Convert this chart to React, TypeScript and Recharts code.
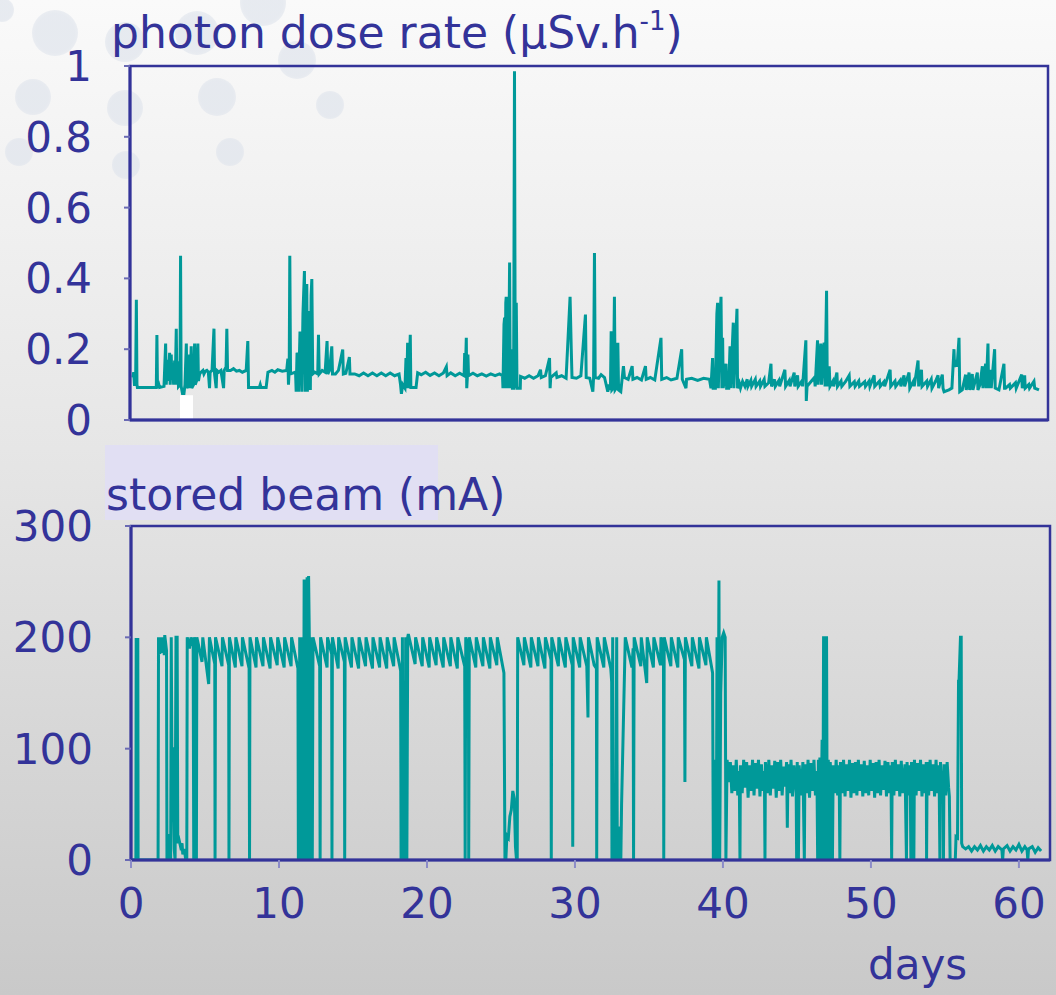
import React from 'react';
import { LineChart, Line, XAxis, YAxis, ReferenceArea } from 'recharts';

const FONT = '"Comic Sans MS", "DejaVu Sans", sans-serif';
const INK = '#333399';
const TEAL = '#009999';

const dayTicks = [0, 10, 20, 30, 40, 50, 60];
const doseTicks = [0, 0.2, 0.4, 0.6, 0.8, 1];
const beamTicks = [0, 100, 200, 300];

// photon dose rate (µSv/h) vs days
const dosePoints: [number, number][] = [
  [0.2,0.12],[0.25,0.135],[0.3,0.1],[0.38,0.1],[0.43,0.34],[0.47,0.1],[0.5,0.092],[1.78,0.092],[1.82,0.24],[1.86,0.092],
  [1.95,0.1],[2.0,0.092],[2.3,0.095],[2.41,0.216],[2.45,0.1],[2.55,0.17],[2.6,0.11],[2.68,0.19],[2.72,0.1],[2.79,0.185],
  [2.83,0.12],[2.9,0.16],[2.95,0.1],[3.02,0.168],[3.06,0.1],[3.13,0.258],[3.17,0.1],[3.24,0.166],[3.28,0.095],[3.38,0.1],
  [3.42,0.464],[3.46,0.095],[3.55,0.075],[3.65,0.075],[3.72,0.1],[3.81,0.216],[3.85,0.09],[3.95,0.1],[4.03,0.185],[4.07,0.09],
  [4.14,0.208],[4.18,0.09],[4.3,0.1],[4.37,0.216],[4.41,0.1],[4.5,0.11],[4.59,0.216],[4.63,0.11],[4.71,0.13],[4.8,0.135],
  [4.93,0.14],[5.0,0.13],[5.1,0.138],[5.2,0.14],[5.3,0.135],[5.38,0.09],[5.42,0.135],[5.55,0.14],[5.68,0.258],[5.72,0.13],
  [5.83,0.09],[5.87,0.14],[6.0,0.135],[6.15,0.14],[6.33,0.09],[6.37,0.14],[6.5,0.15],[6.55,0.258],[6.6,0.14],[6.8,0.14],
  [7.0,0.145],[7.2,0.138],[7.4,0.14],[7.6,0.135],[7.86,0.14],[7.97,0.223],[8.02,0.092],[8.5,0.092],[8.75,0.092],[8.81,0.1],
  [8.86,0.092],[9.21,0.092],[9.33,0.135],[9.6,0.14],[9.8,0.135],[10.0,0.142],[10.3,0.138],[10.6,0.14],[10.68,0.173],[10.72,0.1],
  [10.77,0.14],[10.81,0.464],[10.86,0.13],[11.2,0.135],[11.24,0.08],[11.3,0.19],[11.35,0.185],[11.4,0.08],[11.5,0.25],[11.58,0.218],
  [11.62,0.08],[11.7,0.3],[11.8,0.421],[11.85,0.08],[11.9,0.35],[11.96,0.384],[12.0,0.08],[12.05,0.3],[12.1,0.09],[12.14,0.308],
  [12.2,0.085],[12.25,0.35],[12.3,0.398],[12.36,0.13],[12.5,0.135],[12.7,0.13],[12.75,0.241],[12.8,0.13],[13.0,0.14],[13.2,0.135],
  [13.33,0.223],[13.38,0.13],[13.5,0.14],[13.65,0.208],[13.7,0.13],[13.9,0.13],[14.1,0.14],[14.39,0.199],[14.43,0.13],[14.6,0.132],
  [14.84,0.178],[14.88,0.13],[15.2,0.13],[15.5,0.125],[15.8,0.133],[16.1,0.125],[16.4,0.133],[16.7,0.125],[17.0,0.133],[17.3,0.125],
  [17.6,0.133],[17.9,0.125],[18.2,0.13],[18.3,0.1],[18.36,0.074],[18.45,0.1],[18.6,0.09],[18.67,0.175],[18.72,0.09],[18.78,0.218],
  [18.85,0.09],[18.96,0.241],[19.0,0.092],[19.35,0.092],[19.46,0.133],[19.7,0.128],[20.0,0.135],[20.3,0.126],[20.6,0.133],[20.9,0.125],
  [21.2,0.133],[21.4,0.15],[21.45,0.125],[21.7,0.133],[22.0,0.125],[22.3,0.132],[22.6,0.125],[22.64,0.189],[22.7,0.15],[22.75,0.232],
  [22.78,0.09],[22.82,0.12],[22.86,0.185],[22.9,0.125],[23.2,0.132],[23.5,0.125],[23.8,0.13],[24.1,0.124],[24.4,0.13],[24.7,0.125],
  [25.0,0.13],[25.2,0.125],[25.23,0.09],[25.3,0.27],[25.34,0.289],[25.38,0.09],[25.42,0.33],[25.45,0.348],[25.5,0.09],[25.56,0.348],
  [25.6,0.09],[25.68,0.445],[25.72,0.09],[25.8,0.2],[25.83,0.175],[25.87,0.09],[25.95,0.09],[26.01,0.985],[26.06,0.09],[26.13,0.331],
  [26.18,0.09],[26.4,0.09],[26.42,0.123],[26.7,0.118],[27.0,0.125],[27.3,0.118],[27.6,0.125],[27.77,0.142],[27.82,0.12],[28.1,0.125],
  [28.38,0.175],[28.42,0.09],[28.46,0.12],[28.83,0.133],[28.88,0.12],[29.2,0.125],[29.5,0.118],[29.77,0.348],[29.85,0.2],[29.9,0.12],
  [30.2,0.118],[30.5,0.125],[30.81,0.298],[30.86,0.12],[31.1,0.118],[31.31,0.08],[31.36,0.12],[31.42,0.472],[31.47,0.12],[31.7,0.118],
  [31.87,0.128],[32.1,0.12],[32.32,0.08],[32.4,0.1],[32.5,0.085],[32.55,0.251],[32.6,0.085],[32.7,0.09],[32.77,0.348],[32.82,0.085],
  [32.9,0.09],[33.0,0.218],[33.05,0.085],[33.2,0.08],[33.38,0.152],[33.45,0.12],[33.7,0.115],[33.97,0.152],[34.02,0.115],[34.3,0.12],
  [34.6,0.113],[34.87,0.152],[34.92,0.115],[35.2,0.12],[35.5,0.113],[35.92,0.232],[35.97,0.115],[36.3,0.12],[36.6,0.113],[37.0,0.118],
  [37.32,0.2],[37.36,0.115],[37.61,0.09],[37.65,0.115],[38.0,0.118],[38.4,0.112],[38.8,0.118],[39.2,0.115],[39.3,0.09],[39.41,0.175],
  [39.45,0.09],[39.6,0.09],[39.7,0.3],[39.75,0.331],[39.8,0.09],[39.9,0.28],[39.98,0.348],[40.04,0.09],[40.09,0.232],[40.13,0.09],
  [40.32,0.159],[40.36,0.09],[40.5,0.09],[40.59,0.208],[40.63,0.09],[40.81,0.275],[40.85,0.09],[41.06,0.314],[41.1,0.09],[41.22,0.104],
  [41.3,0.09],[41.44,0.109],[41.6,0.095],[41.75,0.115],[41.8,0.095],[42.0,0.112],[42.05,0.095],[42.3,0.115],[42.35,0.095],[42.6,0.11],
  [42.65,0.095],[42.9,0.115],[42.95,0.095],[43.2,0.105],[43.36,0.159],[43.4,0.095],[43.6,0.115],[43.65,0.095],[43.9,0.112],[43.95,0.095],
  [44.3,0.142],[44.35,0.095],[44.6,0.112],[44.65,0.095],[44.93,0.134],[44.97,0.095],[45.16,0.126],[45.2,0.095],[45.45,0.11],[45.5,0.095],
  [45.72,0.225],[45.75,0.054],[45.8,0.095],[46.1,0.11],[46.3,0.12],[46.35,0.095],[46.51,0.225],[46.55,0.1],[46.63,0.15],[46.73,0.216],
  [46.78,0.1],[46.9,0.2],[46.96,0.218],[47.02,0.095],[47.12,0.365],[47.17,0.095],[47.3,0.152],[47.35,0.095],[47.55,0.11],[47.6,0.095],
  [47.82,0.134],[47.86,0.095],[48.1,0.11],[48.15,0.095],[48.4,0.108],[48.65,0.126],[48.7,0.095],[49.0,0.108],[49.05,0.095],[49.3,0.11],
  [49.35,0.095],[49.7,0.108],[49.75,0.095],[50.0,0.11],[50.05,0.095],[50.34,0.126],[50.38,0.095],[50.7,0.11],[50.75,0.095],[51.0,0.108],
  [51.05,0.095],[51.42,0.142],[51.46,0.095],[51.75,0.11],[51.8,0.095],[52.1,0.112],[52.15,0.095],[52.36,0.126],[52.4,0.095],[52.7,0.134],
  [52.75,0.09],[53.0,0.11],[53.05,0.095],[53.31,0.168],[53.35,0.095],[53.54,0.142],[53.58,0.095],[53.9,0.11],[53.95,0.095],[54.2,0.115],
  [54.25,0.09],[54.5,0.11],[54.66,0.126],[54.7,0.09],[54.95,0.128],[55.0,0.09],[55.07,0.08],[55.4,0.085],[55.6,0.09],[55.74,0.2],
  [55.78,0.15],[55.9,0.17],[55.95,0.15],[56.08,0.232],[56.13,0.08],[56.3,0.085],[56.53,0.128],[56.57,0.085],[56.76,0.134],[56.8,0.085],
  [56.98,0.13],[57.02,0.085],[57.32,0.134],[57.36,0.085],[57.5,0.1],[57.66,0.152],[57.7,0.09],[57.88,0.159],[57.92,0.09],[58.04,0.216],
  [58.08,0.09],[58.22,0.142],[58.26,0.09],[58.49,0.2],[58.53,0.09],[58.78,0.085],[59.12,0.159],[59.16,0.09],[59.23,0.09],[59.5,0.1],
  [59.55,0.09],[59.9,0.105],[59.95,0.09],[60.32,0.128],[60.36,0.09],[60.52,0.126],[60.56,0.09],[60.8,0.1],[60.85,0.09],[61.15,0.109],
  [61.2,0.09],[61.49,0.085],
];

// stored beam (mA) vs days
const beamPoints: [number, number][] = [
  [0,0],[0.33,0],[0.35,198],[0.46,198],[0.48,0],[1.83,0],[1.86,200],[1.95,185],[1.98,200],[2.1,186],[2.13,200],[2.25,184],
  [2.28,202],[2.4,188],[2.43,0],[2.47,22],[2.6,22],[2.63,0],[2.68,0],[2.72,200],[2.76,100],[2.82,100],[2.87,52],[2.92,10],
  [2.98,0],[3.04,200],[3.12,200],[3.16,15],[3.25,18],[3.35,12],[3.45,15],[3.5,5],[3.6,10],[3.7,0],[3.77,0],
  [3.8,200],[3.95,190],[4.05,200],[4.2,192],[4.24,0],[4.27,200],[4.4,190],[4.42,0],[4.45,200],[4.8,178],[4.85,200],[5.25,158],
  [5.3,200],[5.66,176],[5.68,0],[5.71,200],[6.15,174],[6.18,200],[6.6,175],[6.62,0],[6.65,200],[7.05,173],[7.08,200],[7.5,174],
  [7.53,200],[7.98,172],[8.01,0],[8.04,200],[8.45,173],[8.48,200],[8.92,174],[8.95,200],[9.4,172],[9.43,200],[9.88,175],[9.91,200],
  [10.35,173],[10.38,200],[10.82,174],[10.85,200],[11.28,172],
  [11.31,0],[11.36,0],[11.4,200],[11.45,0],[11.55,0],[11.6,200],[11.65,0],[11.7,252],[11.75,0],[11.8,250],[11.85,0],[11.9,254],
  [11.95,0],[12.0,255],[12.05,200],[12.1,0],[12.18,0],[12.22,200],[12.25,0],[12.3,200],
  [12.75,174],[12.78,0],[12.81,200],[13.25,173],[13.28,200],[13.56,185],[13.58,0],[13.61,200],[14.0,172],[14.03,200],[14.42,178],
  [14.44,0],[14.47,200],[14.9,173],[14.93,200],[15.38,172],[15.41,200],[15.85,174],[15.88,200],[16.32,172],[16.35,200],[16.8,173],
  [16.83,200],[17.28,172],[17.31,200],[17.75,174],[17.78,200],[18.22,170],
  [18.25,0],[18.3,0],[18.34,200],[18.38,0],[18.45,25],[18.52,0],[18.56,200],[18.6,25],[18.64,0],[18.7,200],[18.74,203],
  [19.2,176],[19.23,200],[19.68,174],[19.71,200],[20.15,173],[20.18,200],[20.62,175],[20.65,200],[21.1,173],[21.13,200],[21.58,174],
  [21.61,200],[22.05,172],[22.08,200],[22.55,174],[22.58,0],[22.62,200],[22.8,190],[22.82,0],[22.86,200],[23.3,173],[23.33,200],
  [23.78,174],[23.81,200],[24.25,172],[24.28,200],[24.72,175],[24.75,200],[25.2,168],
  [25.27,0],[25.33,0],[25.4,22],[25.5,20],[25.6,39],[25.7,45],[25.8,62],[25.9,55],[25.98,12],[26.05,0],[26.1,0],
  [26.13,200],[26.55,175],[26.58,200],[27.02,173],[27.05,200],[27.5,174],[27.53,200],[27.97,172],[28.0,200],[28.38,180],[28.4,0],
  [28.43,200],[28.88,174],[28.91,200],[29.35,173],[29.38,200],[29.82,175],[29.85,12],[29.88,200],[30.32,173],[30.35,200],[30.8,174],
  [30.88,128],[30.91,200],[31.3,175],[31.45,172],[31.47,0],[31.5,200],[31.95,173],[31.98,200],[32.42,172],[32.48,160],[32.5,0],
  [32.55,200],[32.58,0],[32.62,23],[32.7,60],[32.75,0],[32.82,200],[32.86,0],[32.95,30],[33.0,0],[33.1,0],[33.15,50],[33.4,200],
  [33.85,173],[33.93,190],[33.96,0],[34.0,200],[34.45,174],[34.48,200],[34.85,159],[34.88,200],[35.3,173],[35.33,200],[35.78,175],
  [35.81,200],[35.98,190],[36.0,0],[36.03,200],[36.48,174],[36.51,200],[36.95,173],[36.98,200],[37.4,180],[37.43,70],[37.46,200],
  [37.9,174],[37.93,200],[38.38,172],[38.41,200],[38.85,175],[38.88,200],[39.3,168],
  [39.35,0],[39.4,90],[39.45,0],[39.55,0],[39.6,200],[39.65,0],[39.73,251],[39.78,0],[39.85,150],[39.95,200],[40.05,204],[40.15,200],
  [40.2,0],[40.28,90],
  [40.4,70],[40.5,88],[40.6,60],[40.7,85],[40.8,62],[40.9,90],[41.0,58],[41.1,80],[41.15,0],[41.18,85],[41.3,60],[41.4,90],[41.5,65],
  [41.6,88],[41.7,56],[41.8,85],[41.9,62],[42.0,90],[42.1,58],[42.2,87],[42.3,64],[42.4,90],[42.5,57],[42.6,86],[42.7,62],[42.8,80],
  [42.84,0],[42.87,88],[43.0,60],[43.1,90],[43.2,58],[43.3,85],[43.4,64],[43.5,89],[43.6,56],[43.7,88],[43.8,62],[43.9,90],[44.0,58],
  [44.1,84],[44.2,66],[44.3,88],[44.35,29],[44.4,86],[44.5,60],[44.6,90],[44.7,57],[44.8,85],[44.95,60],[44.98,0],[45.02,88],[45.1,0],
  [45.15,85],[45.3,58],[45.4,88],[45.5,0],[45.54,86],[45.65,60],[45.75,90],[45.85,56],[45.95,87],[46.05,62],[46.15,90],[46.25,58],
  [46.35,80],[46.4,0],[46.45,90],[46.5,0],[46.55,92],[46.6,0],[46.7,108],[46.75,0],[46.8,201],[46.85,0],[46.9,92],[46.95,0],[47.0,201],
  [47.05,0],[47.12,90],[47.2,0],[47.25,88],[47.35,56],[47.4,0],[47.45,85],[47.55,60],[47.65,90],[47.75,58],[47.85,85],[47.9,0],
  [47.94,88],[48.05,60],[48.15,90],[48.25,57],[48.35,86],[48.45,62],[48.55,90],[48.65,56],[48.75,87],[48.85,60],[48.95,88],[49.05,58],
  [49.15,90],[49.25,62],[49.35,86],[49.45,57],[49.55,89],[49.65,60],[49.75,85],[49.85,58],[49.95,90],[50.05,62],[50.15,87],[50.25,56],
  [50.35,88],[50.45,60],[50.55,90],[50.65,58],[50.75,85],[50.85,63],[50.95,89],[51.05,57],[51.15,88],[51.25,60],[51.35,85],[51.4,0],
  [51.44,88],[51.55,58],[51.65,90],[51.75,62],[51.85,86],[51.95,57],[52.05,89],[52.15,60],[52.3,86],[52.4,0],[52.44,88],[52.55,58],
  [52.65,85],[52.7,0],[52.74,88],[52.85,60],[52.9,0],[52.94,90],[53.05,58],[53.15,87],[53.25,62],[53.35,90],[53.45,57],[53.55,86],
  [53.65,60],[53.74,88],[53.76,0],[53.8,88],[53.9,58],[54.0,90],[54.1,62],[54.2,86],[54.3,57],[54.4,90],[54.5,60],[54.6,85],[54.66,0],
  [54.7,88],[54.8,62],[54.88,80],[54.9,0],[54.94,86],[55.05,58],[55.15,88],[55.25,65],[55.3,57],[55.35,0],[55.7,0],[55.75,21],
  [55.85,20],[55.92,162],[55.95,160],[56.05,200],[56.1,200],[56.13,15],[56.2,12],
  [56.4,10],[56.6,12],[56.8,8],[57.0,12],[57.2,9],[57.4,13],[57.6,8],[57.8,12],[58.0,9],[58.2,13],[58.4,8],[58.6,12],[58.85,9],
  [58.9,0],[58.95,10],[59.2,13],[59.4,8],[59.6,12],[59.8,9],[60.0,14],[60.2,8],[60.4,12],[60.55,9],[60.6,0],[60.65,10],[60.9,12],
  [61.1,7],[61.3,11],[61.5,8],
];

const bubbles = [
  { x: 55, y: 33, r: 23 }, { x: 33, y: 97, r: 18 }, { x: 125, y: 108, r: 18 }, { x: 217, y: 97, r: 19 },
  { x: 230, y: 152, r: 14 }, { x: 19, y: 152, r: 14 }, { x: 126, y: 165, r: 14 }, { x: 330, y: 105, r: 14 },
  { x: 297, y: 60, r: 19 }, { x: 263, y: 3, r: 23 }, { x: 197, y: 33, r: 22 }, { x: 125, y: 42, r: 20 }, { x: 2, y: 10, r: 12 },
];

const tickStyle = { fill: INK, fontSize: 42, fontFamily: FONT };

export default function App() {
  const doseData = dosePoints.map(([d, v]) => ({ d, v }));
  const beamData = beamPoints.map(([d, v]) => ({ d, v }));
  return (
    <div style={{ position: 'absolute', left: 0, top: 0, width: 1056, height: 995, overflow: 'hidden',
      background: 'linear-gradient(#fafafa 0%, #e6e6e6 45%, #c9c9c9 100%)', fontFamily: FONT }}>
      {bubbles.map((b, i) => (
        <div key={i} style={{ position: 'absolute', left: b.x - b.r, top: b.y - b.r, width: b.r * 2, height: b.r * 2,
          borderRadius: '50%', background: 'radial-gradient(circle, #dfe4ec 60%, rgba(228,232,239,0.4) 100%)', opacity: 0.7 }} />
      ))}
      <div style={{ position: 'absolute', left: 111, top: 11, fontSize: 44, lineHeight: '44px', color: INK, whiteSpace: 'nowrap' }}>
        photon dose rate (μSv.h<span style={{ fontSize: 26, position: 'relative', top: -18 }}>-1</span>)
      </div>
      <div style={{ position: 'absolute', left: 105, top: 445, width: 333, height: 75, background: '#e1dff3' }} />
      <div style={{ position: 'absolute', left: 106, top: 473, fontSize: 44, lineHeight: '44px', color: INK, whiteSpace: 'nowrap' }}>
        stored beam (mA)
      </div>
      <div style={{ position: 'absolute', left: 0, top: 0 }}>
        <LineChart width={1056} height={470} data={doseData} margin={{ top: 66, right: 8, bottom: 0, left: 0 }}>
          <XAxis type="number" dataKey="d" domain={[0, 62.1]} ticks={dayTicks} allowDataOverflow height={50} interval={0}
            tick={false} tickSize={8} axisLine={{ stroke: INK, strokeWidth: 3 }} tickLine={{ stroke: '#8c8cc8', strokeWidth: 2 }} />
          <YAxis type="number" domain={[0, 1]} ticks={doseTicks} allowDataOverflow width={130} tickSize={6} tickMargin={32} interval={0}
            tick={tickStyle} axisLine={{ stroke: INK, strokeWidth: 3 }} tickLine={{ stroke: '#6a6ab4', strokeWidth: 2 }} />
          <ReferenceArea x1={3.38} x2={4.26} y1={0} y2={0.07} fill="#ffffff" fillOpacity={1} stroke="none" />
          <Line type="linear" dataKey="v" stroke={TEAL} strokeWidth={3} dot={false} isAnimationActive={false} />
          <ReferenceArea x1={0} x2={62.1} y1={0} y2={1} fill="none" stroke={INK} strokeWidth={2.5} />
        </LineChart>
      </div>
      <div style={{ position: 'absolute', left: 0, top: 500 }}>
        <LineChart width={1056} height={480} data={beamData} margin={{ top: 26, right: 6, bottom: 0, left: 0 }}>
          <XAxis type="number" dataKey="d" domain={[0, 62.1]} ticks={dayTicks} allowDataOverflow height={120} interval={0}
            tick={tickStyle} tickSize={8} tickMargin={20} axisLine={{ stroke: INK, strokeWidth: 3 }} tickLine={{ stroke: '#8c8cc8', strokeWidth: 2 }} />
          <YAxis type="number" domain={[0, 300]} ticks={beamTicks} allowDataOverflow width={131} tickSize={6} tickMargin={32} interval={0}
            tick={tickStyle} axisLine={{ stroke: INK, strokeWidth: 3 }} tickLine={{ stroke: '#6a6ab4', strokeWidth: 2 }} />
          <Line type="linear" dataKey="v" stroke={TEAL} strokeWidth={3} dot={false} isAnimationActive={false} />
          <ReferenceArea x1={0} x2={62.1} y1={0} y2={300} fill="none" stroke={INK} strokeWidth={2.5} />
        </LineChart>
      </div>
      <div style={{ position: 'absolute', left: 868, top: 944, fontSize: 42, lineHeight: '42px', color: INK }}>days</div>
    </div>
  );
}
